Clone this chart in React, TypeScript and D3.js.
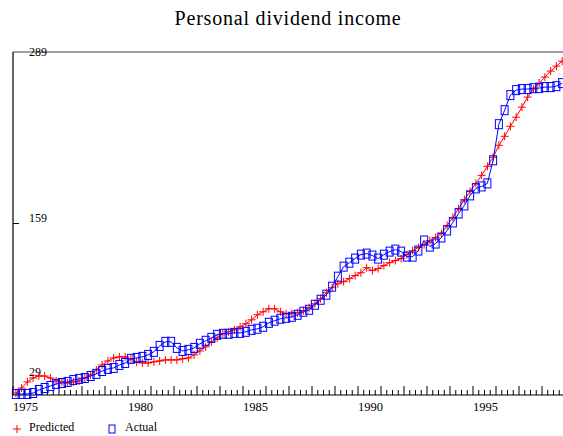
import React from 'react'
import { scaleLinear, line, range } from 'd3'

// quarterly, 1975Q1 .. 1998Q4
const startYear = 1975
const actual = [
  29.8, 29.8, 29.8, 30.5, 32.8, 34.3, 35.8, 37.4, 38.1, 38.9, 40.4, 41.2,
  41.9, 43.4, 45.0, 47.2, 48.8, 49.5, 51.8, 53.3, 56.4, 57.1, 57.9, 59.4,
  61.7, 66.2, 69.3, 69.3, 64.7, 62.4, 63.2, 64.7, 67.8, 70.1, 72.3, 74.6,
  75.4, 75.4, 76.1, 76.1, 76.9, 78.4, 79.2, 80.7, 83.7, 85.3, 86.8, 87.5,
  88.3, 89.8, 92.1, 93.6, 97.4, 101.2, 105.0, 111.1, 118.7, 126.3, 129.3, 132.4,
  135.4, 136.2, 134.7, 132.4, 135.4, 137.7, 139.2, 137.7, 133.9, 133.9, 138.5, 146.1,
  141.5, 143.8, 148.4, 153.7, 159.8, 166.6, 172.7, 180.3, 185.6, 187.1, 189.4, 206.9,
  234.3, 244.9, 256.3, 260.1, 260.9, 260.9, 261.6, 261.6, 262.4, 262.4, 263.1, 265.4,
]
const predicted = [
  30.5, 34.3, 38.9, 41.9, 43.4, 43.4, 41.9, 39.6, 38.9, 38.1, 38.9, 39.6,
  41.9, 44.2, 48.0, 51.8, 54.8, 57.1, 57.9, 57.9, 56.4, 54.1, 53.3, 53.3,
  54.1, 54.8, 55.6, 55.6, 55.6, 56.4, 57.1, 59.4, 62.4, 65.5, 69.3, 72.3,
  75.4, 76.9, 78.4, 80.7, 83.0, 86.0, 89.8, 92.1, 94.4, 94.4, 92.1, 90.6,
  90.6, 91.3, 92.9, 95.1, 98.2, 102.0, 106.5, 110.3, 113.4, 114.9, 117.2, 119.5,
  121.7, 125.5, 123.3, 124.8, 127.1, 129.3, 130.9, 132.4, 135.4, 138.5, 140.8, 143.0,
  146.1, 148.4, 151.4, 157.5, 163.6, 170.4, 177.2, 183.3, 189.4, 195.5, 202.3, 209.2,
  218.3, 225.1, 232.7, 239.6, 247.2, 254.8, 260.9, 265.4, 270.0, 274.5, 278.3, 282.1,
]
const yTicks = [289, 159, 29]
const yLabelDy = [4, -2, -19]
const xLabels = [1975, 1980, 1985, 1990, 1995]

const W = 563
const H = 436
const left = 13
const top = 52
const bottom = 395

const x = scaleLinear().domain([1975, 1998.913]).range([left, W])
const y = scaleLinear().domain([29, 289]).range([bottom, top])

const t = (i: number) => startYear + i / 4 + 0.125

const serif = '"Liberation Serif", "Times New Roman", serif'

const plus = (cx: number, cy: number, s = 4) =>
  `M${cx - s},${cy}H${cx + s}M${cx},${cy - s}V${cy + s}`

const App = () => {
  const path = line<number>().x((d, i) => x(t(i))).y(d => y(d))
  const quarters = range(0, 96).map(i => startYear + i / 4)

  return (
    <svg width={W} height={H} style={{ position: 'absolute', left: 0, top: 0, fontFamily: serif }}>
      <rect width={W} height={H} fill="#fff" />
      <text x={288} y={25} textAnchor="middle" fontSize={20} letterSpacing={0.8} fill="#000">
        Personal dividend income
      </text>

      {/* frame */}
      <line x1={left} x2={W} y1={top} y2={top} stroke="#808080" strokeWidth={1.5} />
      <line x1={left} x2={left} y1={top} y2={bottom} stroke="#000" strokeWidth={1.2} />
      <line x1={left} x2={W} y1={bottom} y2={bottom} stroke="#000" strokeWidth={1.2} />

      {/* y ticks */}
      {yTicks.map((v, k) => (
        <g key={v}>
          {v !== 289 && v !== 29 && (
            <line x1={left} x2={left + 6} y1={y(v)} y2={y(v)} stroke="#000" />
          )}
          <text x={29} y={y(v) + yLabelDy[k]} fontSize={12} fill="#000">{v}</text>
        </g>
      ))}

      {/* x ticks */}
      {quarters.map((q, i) => (
        <line
          key={i}
          x1={x(q)} x2={x(q)}
          y1={bottom} y2={bottom - (i % 4 === 0 ? 9 : 5)}
          stroke="#000" strokeWidth={1}
        />
      ))}
      {xLabels.map(yr => (
        <text key={yr} x={x(yr)} y={411} fontSize={12.5} fill="#000">{yr}</text>
      ))}

      {/* predicted */}
      <path d={path(predicted) || ''} fill="none" stroke="#ff0000" strokeWidth={1} />
      {predicted.map((v, i) => (
        <path key={i} d={plus(x(t(i)), y(v))} stroke="#ff0000" strokeWidth={1} fill="none" />
      ))}

      {/* actual */}
      <path d={path(actual) || ''} fill="none" stroke="#0000ff" strokeWidth={1} />
      {actual.map((v, i) => (
        <rect key={i} x={x(t(i)) - 3.5} y={y(v) - 4.5} width={7} height={9}
          fill="none" stroke="#0000ff" strokeWidth={1} />
      ))}

      {/* legend */}
      <path d={plus(17, 429)} stroke="#ff0000" strokeWidth={1} fill="none" />
      <text x={29} y={431} fontSize={12} fill="#000">Predicted</text>
      <rect x={109} y={425} width={6} height={8} fill="none" stroke="#0000ff" strokeWidth={1} />
      <text x={125} y={431} fontSize={12} fill="#000">Actual</text>
    </svg>
  )
}

export default App
